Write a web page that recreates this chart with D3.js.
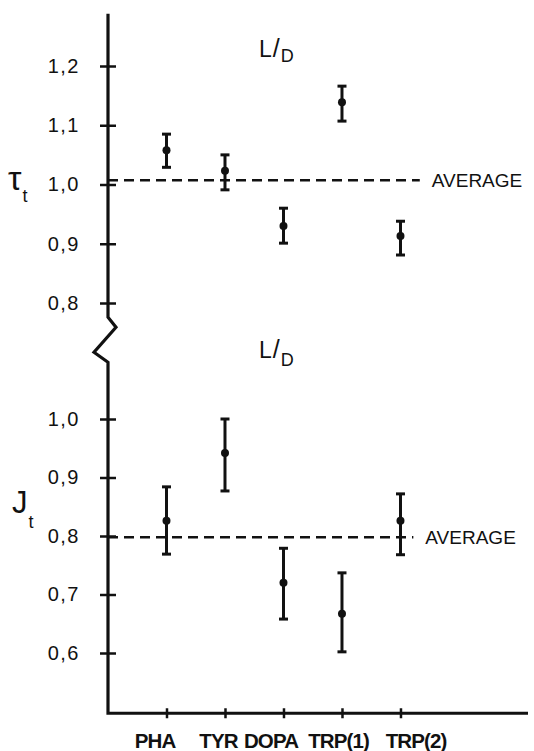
<!DOCTYPE html>
<html>
<head>
<meta charset="utf-8">
<script src="https://cdn.jsdelivr.net/npm/d3@7"></script>
<style>
  body { margin: 0; background: #fff; }
  svg { display: block; }
  text { font-family: "Liberation Sans", Arial, sans-serif; fill: #111; }
</style>
</head>
<body>
<div id="chartArea"></div>
<script>
// data setup
var categories = ["PHA", "TYR", "DOPA", "TRP(1)", "TRP(2)"];

// upper panel: tau_t (L/D)
var tauMean = [1.058, 1.023, 0.930, 1.139, 0.913];
var tauLow  = [1.029, 0.991, 0.901, 1.107, 0.881];
var tauHigh = [1.085, 1.050, 0.960, 1.166, 0.938];
var tauAverage = 1.007;
var tauTicks = [0.8, 0.9, 1.0, 1.1, 1.2];

// lower panel: J_t (L/D)
var jMean = [0.826, 0.942, 0.720, 0.667, 0.826];
var jLow  = [0.769, 0.877, 0.658, 0.602, 0.768];
var jHigh = [0.884, 1.000, 0.779, 0.737, 0.872];
var jAverage = 0.798;
var jTicks = [0.6, 0.7, 0.8, 0.9, 1.0];

// small horizontal nudges so the packed category labels do not collide
var labelShift = [-12, -7, -13, -4, 15];

var width = 534, height = 751;
var axisX = 108;

var svg = d3.select("#chartArea").append("svg")
  .attr("width", width)
  .attr("height", height);

// scales
var x = d3.scaleLinear().domain([0, 7.18]).range([axisX, 528]);
var yTop = d3.scaleLinear().domain([0.8, 1.2]).range([303, 66]);
var yBot = d3.scaleLinear().domain([0.6, 1.0]).range([653, 419]);

var commaFmt = function(d) { return d3.format(".1f")(d).replace(".", ","); };

// y axis line with the break
var breakTop = yTop(0.776), breakBot = yBot(1.097);
var axisPath = d3.path();
axisPath.moveTo(axisX, yTop(1.288));
axisPath.lineTo(axisX, breakTop);
axisPath.lineTo(axisX + 8, breakTop + 10);
axisPath.lineTo(axisX - 14, breakTop + 35);
axisPath.lineTo(axisX, breakBot);
axisPath.lineTo(axisX, yBot(0.497));
axisPath.lineTo(x(7.18), yBot(0.497));
svg.append("path")
  .attr("d", axisPath.toString())
  .attr("fill", "none")
  .attr("stroke", "#111")
  .attr("stroke-width", 3.2)
  .attr("stroke-linejoin", "miter");

// y axes (ticks cross the axis line)
function drawYAxis(scale, ticks) {
  var g = svg.append("g")
    .attr("transform", "translate(" + axisX + ",0)")
    .call(d3.axisLeft(scale).tickValues(ticks).tickFormat(commaFmt)
      .tickSize(8).tickPadding(20));
  g.select(".domain").remove();
  g.selectAll(".tick line")
    .attr("x1", 8).attr("x2", -8)
    .attr("stroke", "#111").attr("stroke-width", 2.5);
  g.selectAll(".tick text")
    .attr("font-size", 20)
    .attr("letter-spacing", 1.5)
    .attr("font-family", "Liberation Sans, Arial, sans-serif")
    .attr("fill", "#111");
}
drawYAxis(yTop, tauTicks);
drawYAxis(yBot, jTicks);

// x axis ticks + labels
var xAxis = svg.append("g")
  .attr("transform", "translate(0," + yBot(0.497) + ")")
  .call(d3.axisBottom(x).tickValues(d3.range(1, categories.length + 1))
    .tickFormat(function(d) { return categories[d - 1]; })
    .tickSize(6).tickPadding(14));
xAxis.select(".domain").remove();
xAxis.selectAll(".tick line")
  .attr("y1", -5).attr("y2", 5)
  .attr("stroke", "#111").attr("stroke-width", 2.5);
xAxis.selectAll(".tick text")
  .attr("font-size", 20.5)
  .attr("font-weight", "bold")
  .attr("letter-spacing", -0.9)
  .attr("fill", "#111")
  .attr("dx", function(d) { return labelShift[d - 1]; });

// average lines
function drawAverage(scale, value, xEnd) {
  svg.append("line")
    .attr("x1", axisX).attr("x2", x(xEnd))
    .attr("y1", scale(value)).attr("y2", scale(value))
    .attr("stroke", "#111")
    .attr("stroke-width", 2.5)
    .attr("stroke-dasharray", "10,6");
  svg.append("text")
    .attr("x", x(xEnd) + 12)
    .attr("y", scale(value))
    .attr("dy", "0.36em")
    .attr("font-size", 19)
    .text("AVERAGE");
}
drawAverage(yTop, tauAverage, 5.33);
drawAverage(yBot, jAverage, 5.22);

// error bars with points
function drawPoints(scale, mean, low, high) {
  var g = svg.append("g");
  var idx = d3.range(categories.length);
  g.selectAll(".bar").data(idx).enter().append("line")
    .attr("x1", function(i) { return x(i + 1); })
    .attr("x2", function(i) { return x(i + 1); })
    .attr("y1", function(i) { return scale(low[i]); })
    .attr("y2", function(i) { return scale(high[i]); })
    .attr("stroke", "#111").attr("stroke-width", 3);
  [low, high].forEach(function(arr) {
    g.selectAll(null).data(idx).enter().append("line")
      .attr("x1", function(i) { return x(i + 1) - 4.5; })
      .attr("x2", function(i) { return x(i + 1) + 4.5; })
      .attr("y1", function(i) { return scale(arr[i]); })
      .attr("y2", function(i) { return scale(arr[i]); })
      .attr("stroke", "#111").attr("stroke-width", 3);
  });
  g.selectAll("circle").data(idx).enter().append("circle")
    .attr("cx", function(i) { return x(i + 1); })
    .attr("cy", function(i) { return scale(mean[i]); })
    .attr("r", 4)
    .attr("fill", "#111");
}
drawPoints(yTop, tauMean, tauLow, tauHigh);
drawPoints(yBot, jMean, jLow, jHigh);

// L/D panel titles
function drawLD(yPos, dropD) {
  var t = svg.append("text")
    .attr("x", 259)
    .attr("y", yPos)
    .attr("font-size", 23);
  t.append("tspan").text("L");
  t.append("tspan").attr("font-size", 25).attr("dx", 1).text("/");
  t.append("tspan").attr("font-size", 18).attr("dx", 1).attr("dy", dropD).text("D");
}
drawLD(yTop(1.215), 5);
drawLD(yBot(1.104), 8);

// y axis titles
function drawYTitle(symbol, xPos, yPos, family, size, subDy) {
  var t = svg.append("text")
    .attr("x", xPos)
    .attr("y", yPos)
    .attr("font-size", size)
    .attr("font-family", family);
  t.append("tspan").text(symbol);
  t.append("tspan")
    .attr("font-size", 18)
    .attr("font-family", "Liberation Sans, Arial, sans-serif")
    .attr("dx", 1).attr("dy", subDy).text("t");
}
drawYTitle("\u03C4", 8, yTop(0.990), "DejaVu Serif", 34, 12);
drawYTitle("J", 12, yBot(0.839), "Liberation Serif", 31, 15);
</script>
</body>
</html>
